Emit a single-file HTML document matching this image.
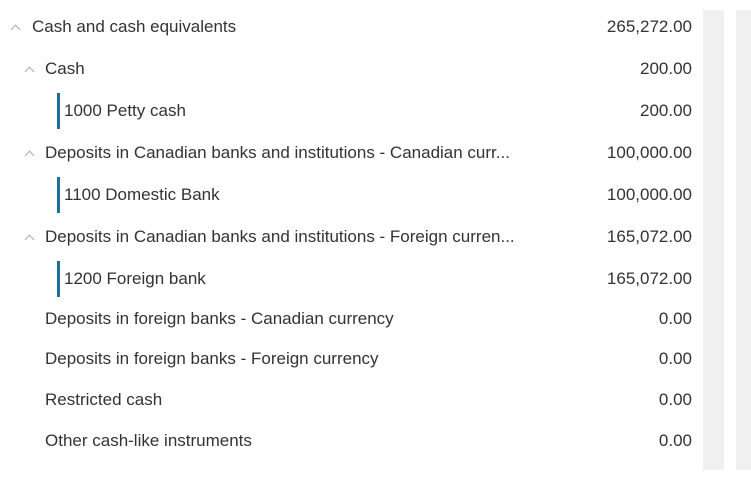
<!DOCTYPE html>
<html><head><meta charset="utf-8"><style>
body{margin:0;width:751px;height:485px;background:#fff;position:relative;overflow:hidden;font-family:"Liberation Sans",sans-serif;color:#333;font-size:17px}
.row{position:absolute;left:0;width:700px;height:30px}
.lbl,.val{position:absolute;top:0;line-height:30px;white-space:nowrap}
.val{right:8px}
.car{position:absolute;top:14px;width:6px;height:6px;border-left:1.5px solid #aaa;border-top:1.5px solid #aaa;transform:rotate(45deg)}
.bar{position:absolute;top:-3px;width:3px;height:36px;background:#1f6f9a}
.col{position:absolute;top:10px;height:460px;background:#f0f0f0}
</style></head><body>
<div class="col" style="left:703px;width:21px"></div>
<div class="col" style="left:736px;width:15px"></div>
<div id="rows"></div>
<script>
const labels=["Cash and cash equivalents","Cash","1000 Petty cash","Deposits in Canadian banks and institutions - Canadian curr...","1100 Domestic Bank","Deposits in Canadian banks and institutions - Foreign curren...","1200 Foreign bank","Deposits in foreign banks - Canadian currency","Deposits in foreign banks - Foreign currency","Restricted cash","Other cash-like instruments"];
const values=["265,272.00","200.00","200.00","100,000.00","100,000.00","165,072.00","165,072.00","0.00","0.00","0.00","0.00"];
const kinds=["g0","g1","leaf","g1","leaf","g1","leaf","n1","n1","n1","n1"];
const ys=[12,54,96,138,180,222,264,304,344,385,426];
const c=document.getElementById('rows');
labels.forEach((l,i)=>{
 const r=document.createElement('div');r.className='row';r.style.top=ys[i]+'px';
 
 
 const k=kinds[i];let x=45,h='';
 if(k=='g0'){x=32;h='<div class="car" style="left:12px"></div>';}
 if(k=='g1'){x=45;h='<div class="car" style="left:26px"></div>';}
 if(k=='leaf'){x=64;h='<div class="bar" style="left:57px"></div>';}
 r.innerHTML=h+'<span class="lbl" style="left:'+x+'px">'+l+'</span><span class="val">'+values[i]+'</span>';
 c.appendChild(r);
});
</script>
</body></html>
